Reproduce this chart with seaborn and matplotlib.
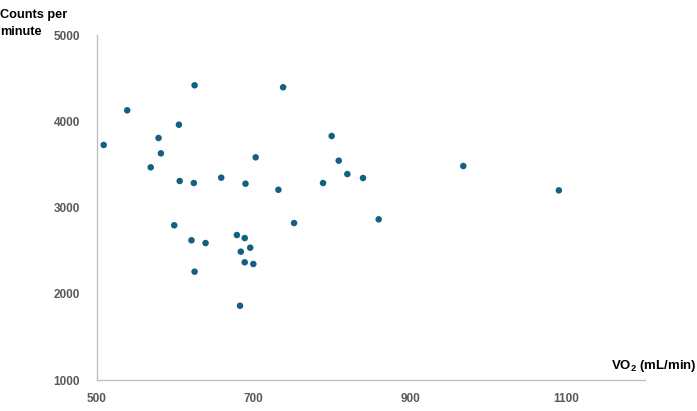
import matplotlib
matplotlib.use("Agg")
import matplotlib.pyplot as plt
import seaborn as sns
import pandas as pd

vo2 = [509, 539, 569, 579, 582, 605, 606, 625, 624, 659, 703, 690, 732, 738,
       752, 599, 621, 639, 625, 679, 689, 696, 684, 689, 700, 683, 800, 809,
       820, 840, 789, 860, 968, 1090]
counts = [3725, 4127, 3466, 3806, 3628, 3960, 3307, 4417, 3284, 3346, 3582,
          3276, 3206, 4394, 2820, 2794, 2620, 2588, 2256, 2681, 2646, 2534,
          2488, 2365, 2345, 1861, 3829, 3543, 3388, 3342, 3284, 2863, 3481, 3199]
x_ticks = [500, 700, 900, 1100]
y_ticks = [1000, 2000, 3000, 4000, 5000]

df = pd.DataFrame({"vo2": vo2, "counts": counts})

sns.set_style("white")
plt.rcParams['font.family'] = ['Liberation Sans', 'DejaVu Sans']
plt.rcParams['mathtext.default'] = 'regular'

fig = plt.figure(figsize=(6.97, 4.11), dpi=100)
ax = fig.add_axes([0.1387, 0.0754, 0.9254 - 0.1387, 0.9148 - 0.0754])
sns.scatterplot(data=df, x="vo2", y="counts", ax=ax, color="#156082",
                s=22, edgecolor="none", legend=False)
ax.set_xlim(500, 1200)
ax.set_ylim(1000, 5000)
ax.set_xticks(x_ticks)
ax.set_yticks(y_ticks)
ax.set_xlabel("")
ax.set_ylabel("")
for side in ["top", "right"]:
    ax.spines[side].set_visible(False)
for side in ["left", "bottom"]:
    ax.spines[side].set_color("#BFBFBF")
    ax.spines[side].set_linewidth(1.0)
ax.tick_params(axis="both", length=0, labelsize=8.5, labelcolor="#595959")
ax.tick_params(axis="y", pad=12)
ax.tick_params(axis="x", pad=9)
for lab in ax.get_xticklabels() + ax.get_yticklabels():
    lab.set_fontweight("bold")

fig.text(0.0, 1 - 15 / 411, "Counts per", ha="left", va="center",
         fontsize=9.2, fontweight="bold", color="black")
fig.text(0.0, 1 - 32 / 411, "minute", ha="left", va="center",
         fontsize=9.2, fontweight="bold", color="black")
fig.text(0.999, 1 - 366 / 411, "VO$_2$ (mL/min)", ha="right", va="center",
         fontsize=9.5, fontweight="bold", color="black")

fig.savefig("out.png", dpi=100)
